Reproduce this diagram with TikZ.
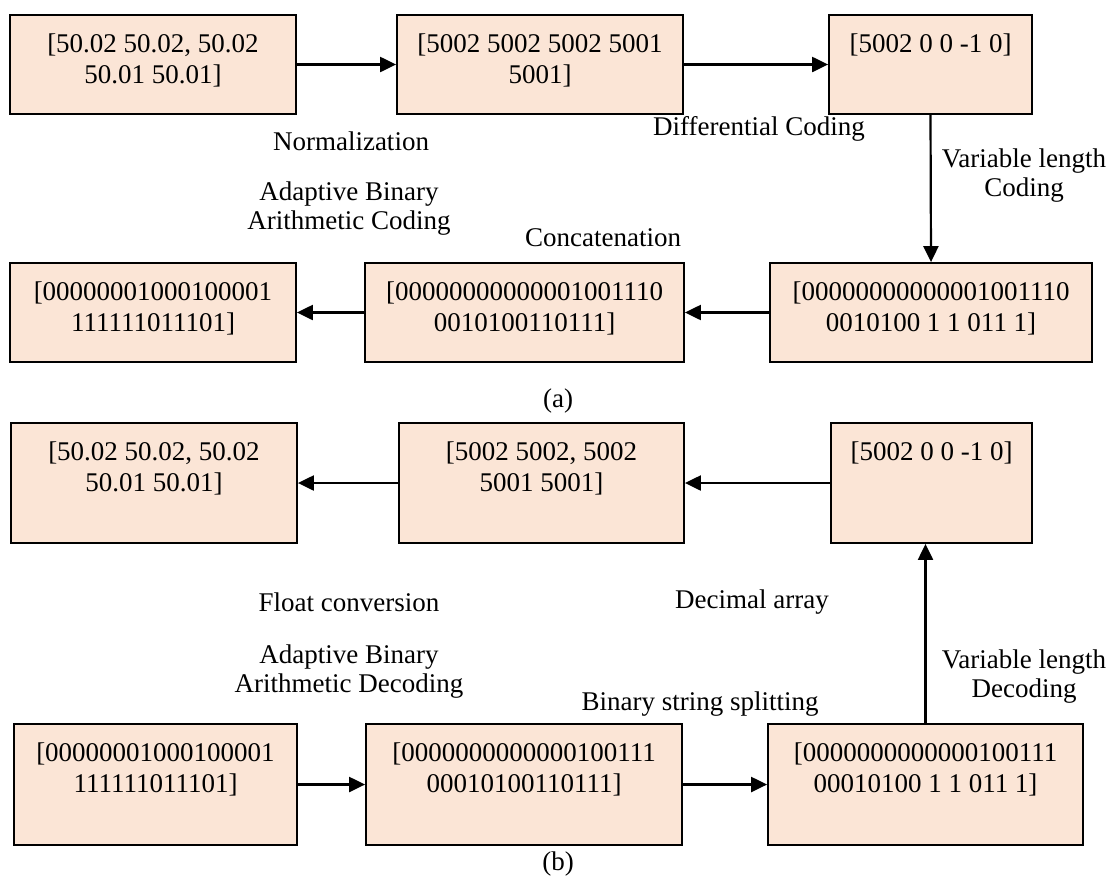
\documentclass[tikz,border=0pt]{standalone}
\usepackage{fontspec}
\setmainfont{Liberation Serif}
\usetikzlibrary{arrows.meta}
\definecolor{boxfill}{HTML}{FBE5D6}
\begin{document}
\begin{tikzpicture}[x=1pt,y=-1pt,
  box/.style={draw=black, line width=1.8pt, fill=boxfill, inner sep=0pt},
  boxtext/.style={anchor=north, align=center, inner sep=0pt, yshift=-19pt,
    font=\fontsize{27}{31}\selectfont},
  lbl/.style={align=center, inner sep=0pt, font=\fontsize{27}{29}\selectfont},
  flow/.style={line width=2.2pt, -{Triangle[length=16pt,width=15pt]}}]
\useasboundingbox (0,0) rectangle (1110,876);

% ---------- (a) encoding ----------
\node[box, minimum width=286pt, minimum height=99pt] (a1) at (153,64.5) {};
\node[box, minimum width=286pt, minimum height=99pt] (a2) at (540,64.5) {};
\node[box, minimum width=203pt, minimum height=99pt] (a3) at (930.5,64.5) {};
\node[box, minimum width=286pt, minimum height=99pt] (a4) at (153,312.5) {};
\node[box, minimum width=319pt, minimum height=99pt] (a5) at (524.5,312.5) {};
\node[box, minimum width=322pt, minimum height=99pt] (a6) at (931,312.5) {};

\node[boxtext] (a1t) at (a1.north) {[50.02 50.02, 50.02\\50.01 50.01]};
\node[boxtext] (a2t) at (a2.north) {[5002 5002 5002 5001\\5001]};
\node[boxtext] (a3t) at (a3.north) {[5002 0 0 -1 0]};
\node[boxtext] (a4t) at (a4.north) {[00000001000100001\\111111011101]};
\node[boxtext] (a5t) at (a5.north) {[00000000000001001110\\0010100110111]};
\node[boxtext] (a6t) at (a6.north) {[00000000000001001110\\0010100 1 1 011 1]};

\draw[flow] (a1.east) -- (a2.west);
\draw[flow] (a2.east) -- (a3.west);
\draw[flow] (a3.south) -- (a6.north);
\draw[flow] (a6.west) -- (a5.east);
\draw[flow] (a5.west) -- (a4.east);

\node[lbl] (n1) at (351,141) {Normalization};
\node[lbl] (n2) at (759,129) {Differential Coding};
\node[lbl] (n3) at (1024,176) {Variable length\\Coding};
\node[lbl] (n4) at (349,209) {Adaptive Binary\\Arithmetic Coding};
\node[lbl] (n5) at (603,238) {Concatenation};
\node[lbl] (capa) at (558,401) {(a)};

% ---------- (b) decoding ----------
\node[box, minimum width=286pt, minimum height=120pt] (b1) at (154,483) {};
\node[box, minimum width=285pt, minimum height=120pt] (b2) at (541.5,483) {};
\node[box, minimum width=201pt, minimum height=120pt] (b3) at (931.5,483) {};
\node[box, minimum width=283pt, minimum height=121pt] (b4) at (155.5,784.5) {};
\node[box, minimum width=316pt, minimum height=121pt] (b5) at (524,784.5) {};
\node[box, minimum width=315pt, minimum height=121pt] (b6) at (925.5,784.5) {};

\node[boxtext] (b1t) at (b1.north) {[50.02 50.02, 50.02\\50.01 50.01]};
\node[boxtext] (b2t) at (b2.north) {[5002 5002, 5002\\5001 5001]};
\node[boxtext] (b3t) at (b3.north) {[5002 0 0 -1 0]};
\node[boxtext] (b4t) at (b4.north) {[00000001000100001\\111111011101]};
\node[boxtext] (b5t) at (b5.north) {[0000000000000100111\\00010100110111]};
\node[boxtext] (b6t) at (b6.north) {[0000000000000100111\\00010100 1 1 011 1]};

\draw[flow] (b3.west) -- (b2.east);
\draw[flow] (b2.west) -- (b1.east);
\draw[flow] (b6.north) -- (b6.north |- b3.south);
\draw[flow] (b4.east) -- (b5.west);
\draw[flow] (b5.east) -- (b6.west);

\node[lbl] (m1) at (349,602) {Float conversion};
\node[lbl] (m2) at (752,602) {Decimal array};
\node[lbl] (m3) at (1024,677) {Variable length\\Decoding};
\node[lbl] (m4) at (349,672) {Adaptive Binary\\Arithmetic Decoding};
\node[lbl] (m5) at (700,704) {Binary string splitting};
\node[lbl] (capb) at (558,864) {(b)};
\end{tikzpicture}
\end{document}
